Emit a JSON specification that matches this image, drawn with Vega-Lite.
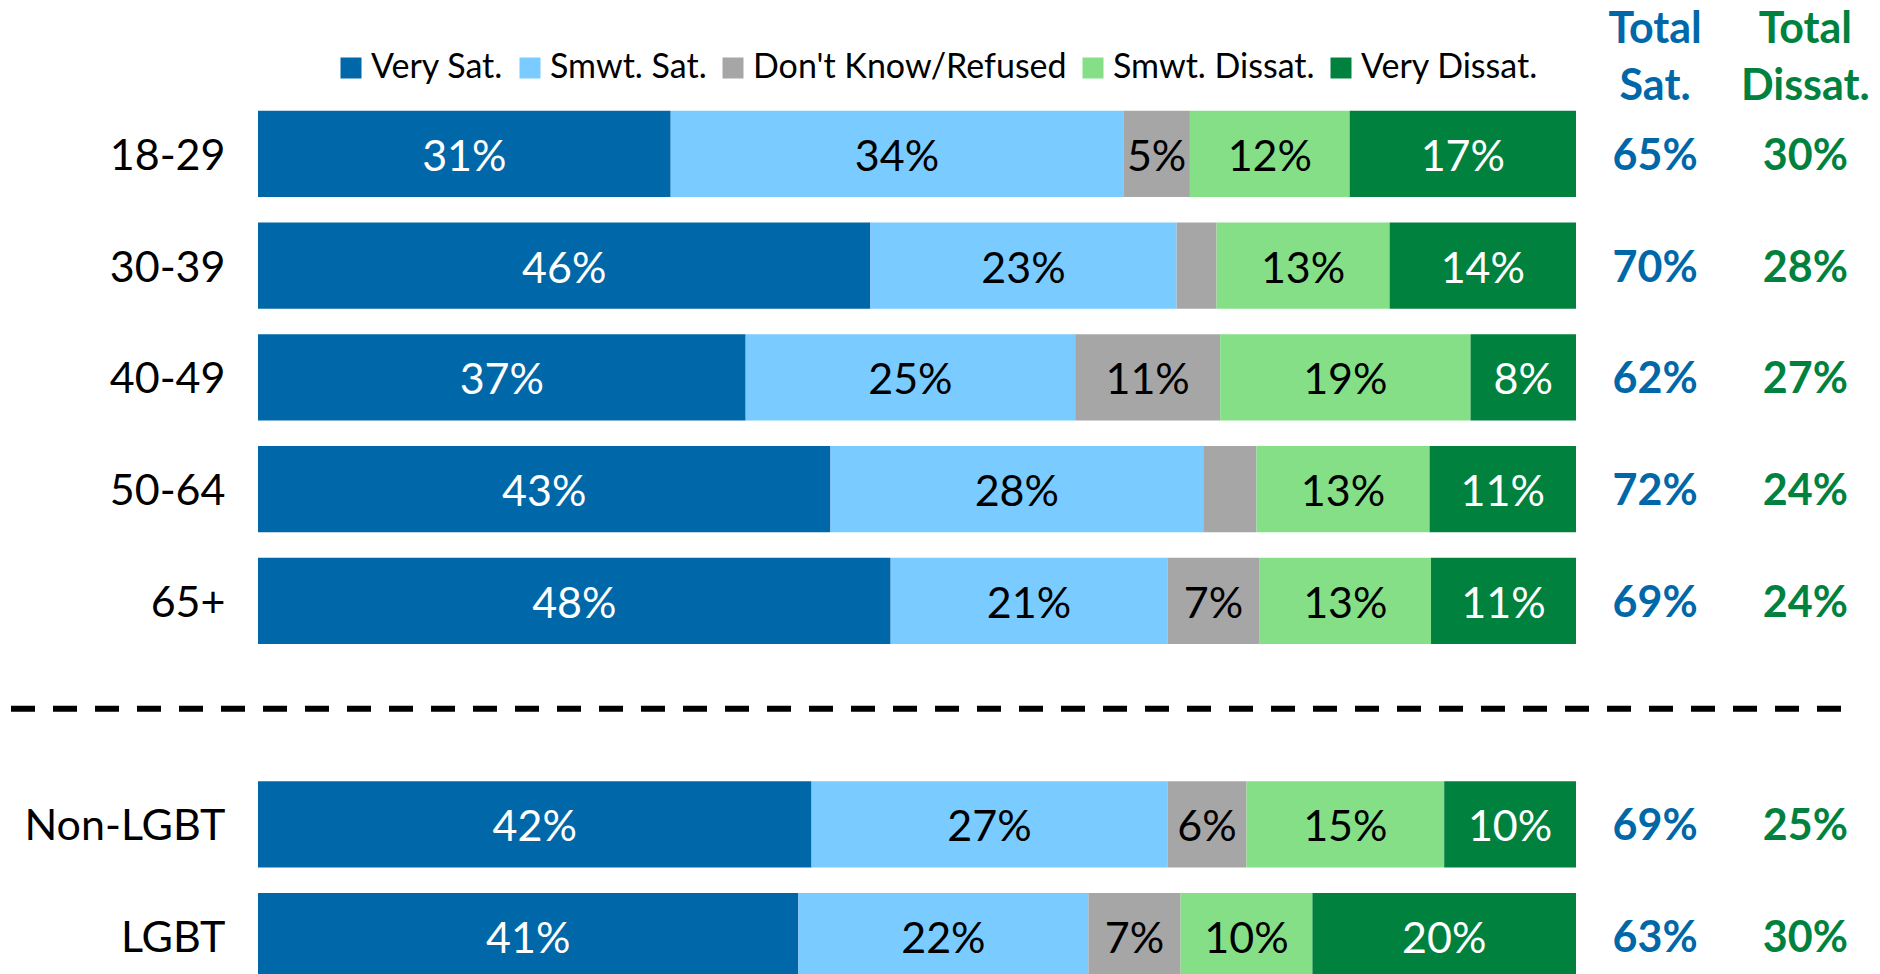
{
  "$schema": "https://vega.github.io/schema/vega-lite/v6.json",
  "width": 1318,
  "height": 876,
  "autosize": {"type": "none"},
  "padding": {"left": 258, "top": 98, "right": 304, "bottom": 0},
  "background": "white",
  "config": {"view": {"stroke": null}, "font": "Lato"},
  "datasets": {
    "shares": [
      {"group": "18-29", "cat": "Very Sat.", "v": 31},
      {"group": "18-29", "cat": "Smwt. Sat.", "v": 34},
      {"group": "18-29", "cat": "Don't Know/Refused", "v": 5},
      {"group": "18-29", "cat": "Smwt. Dissat.", "v": 12},
      {"group": "18-29", "cat": "Very Dissat.", "v": 17},
      {"group": "30-39", "cat": "Very Sat.", "v": 46},
      {"group": "30-39", "cat": "Smwt. Sat.", "v": 23},
      {"group": "30-39", "cat": "Don't Know/Refused", "v": 3},
      {"group": "30-39", "cat": "Smwt. Dissat.", "v": 13},
      {"group": "30-39", "cat": "Very Dissat.", "v": 14},
      {"group": "40-49", "cat": "Very Sat.", "v": 37},
      {"group": "40-49", "cat": "Smwt. Sat.", "v": 25},
      {"group": "40-49", "cat": "Don't Know/Refused", "v": 11},
      {"group": "40-49", "cat": "Smwt. Dissat.", "v": 19},
      {"group": "40-49", "cat": "Very Dissat.", "v": 8},
      {"group": "50-64", "cat": "Very Sat.", "v": 43},
      {"group": "50-64", "cat": "Smwt. Sat.", "v": 28},
      {"group": "50-64", "cat": "Don't Know/Refused", "v": 4},
      {"group": "50-64", "cat": "Smwt. Dissat.", "v": 13},
      {"group": "50-64", "cat": "Very Dissat.", "v": 11},
      {"group": "65+", "cat": "Very Sat.", "v": 48},
      {"group": "65+", "cat": "Smwt. Sat.", "v": 21},
      {"group": "65+", "cat": "Don't Know/Refused", "v": 7},
      {"group": "65+", "cat": "Smwt. Dissat.", "v": 13},
      {"group": "65+", "cat": "Very Dissat.", "v": 11},
      {"group": "Non-LGBT", "cat": "Very Sat.", "v": 42},
      {"group": "Non-LGBT", "cat": "Smwt. Sat.", "v": 27},
      {"group": "Non-LGBT", "cat": "Don't Know/Refused", "v": 6},
      {"group": "Non-LGBT", "cat": "Smwt. Dissat.", "v": 15},
      {"group": "Non-LGBT", "cat": "Very Dissat.", "v": 10},
      {"group": "LGBT", "cat": "Very Sat.", "v": 41},
      {"group": "LGBT", "cat": "Smwt. Sat.", "v": 22},
      {"group": "LGBT", "cat": "Don't Know/Refused", "v": 7},
      {"group": "LGBT", "cat": "Smwt. Dissat.", "v": 10},
      {"group": "LGBT", "cat": "Very Dissat.", "v": 20}
    ],
    "totals": [
      {"group": "18-29", "sat": 65, "dissat": 30},
      {"group": "30-39", "sat": 70, "dissat": 28},
      {"group": "40-49", "sat": 62, "dissat": 27},
      {"group": "50-64", "sat": 72, "dissat": 24},
      {"group": "65+", "sat": 69, "dissat": 24},
      {"group": "Non-LGBT", "sat": 69, "dissat": 25},
      {"group": "LGBT", "sat": 63, "dissat": 30}
    ]
  },
  "layer": [
    {
      "data": {"name": "shares"},
      "transform": [
        {"calculate": "indexof(['Very Sat.','Smwt. Sat.',\"Don't Know/Refused\",'Smwt. Dissat.','Very Dissat.'], datum.cat)", "as": "ord"},
        {"stack": "v", "groupby": ["group"], "sort": [{"field": "ord", "order": "ascending"}], "offset": "normalize", "as": ["x0", "x1"]},
        {"calculate": "(datum.x0 + datum.x1) / 2", "as": "xm"},
        {"calculate": "datum.v + '%'", "as": "lbl"}
      ],
      "layer": [
        {
          "mark": {"type": "bar"},
          "encoding": {
            "x": {"field": "x0", "type": "quantitative", "scale": {"domain": [0, 1], "nice": false, "zero": false}, "axis": null},
            "x2": {"field": "x1"},
            "y": {
              "field": "group", "type": "nominal",
              "scale": {"domain": ["18-29", "30-39", "40-49", "50-64", "65+", "gap", "Non-LGBT", "LGBT"], "paddingInner": 0.23, "paddingOuter": 0.115, "range": [0, 894]},
              "axis": {"title": null, "domain": false, "ticks": false, "labelFontSize": 43, "labelColor": "black", "labelPadding": 33, "labelOffset": 3, "labelLimit": 0, "labelFont": "Lato", "labelExpr": "datum.value === 'gap' ? '' : datum.value"}
            },
            "color": {
              "field": "cat", "type": "nominal",
              "scale": {"domain": ["Very Sat.", "Smwt. Sat.", "Don't Know/Refused", "Smwt. Dissat.", "Very Dissat."], "range": ["#0068A8", "#7ACBFF", "#A6A6A6", "#85DF86", "#00823E"]},
              "legend": {"title": null, "orient": "none", "legendX": 76, "legendY": -47, "direction": "horizontal", "symbolType": "square", "symbolSize": 441, "symbolStrokeWidth": 0, "labelFontSize": 34, "labelFont": "Lato", "labelColor": "black", "labelOffset": 3, "columnPadding": 9, "labelLimit": 0}
            }
          }
        },
        {
          "transform": [{"filter": "datum.v >= 5"}],
          "mark": {"type": "text", "fontSize": 43, "font": "Lato", "dy": 4},
          "encoding": {
            "x": {"field": "xm", "type": "quantitative"},
            "y": {"field": "group", "type": "nominal"},
            "text": {"field": "lbl"},
            "color": {"condition": {"test": "datum.cat === 'Very Sat.' || datum.cat === 'Very Dissat.'", "value": "white"}, "value": "black"}
          }
        }
      ]
    },
    {
      "data": {"name": "totals"},
      "transform": [
        {"calculate": "datum.sat + '%'", "as": "satl"},
        {"calculate": "datum.dissat + '%'", "as": "dissatl"}
      ],
      "layer": [
        {
          "mark": {"type": "text", "fontSize": 43, "fontWeight": "bold", "font": "Lato", "color": "#0068A8", "dy": 3},
          "encoding": {"x": {"datum": 1.06}, "y": {"field": "group", "type": "nominal"}, "text": {"field": "satl"}}
        },
        {
          "mark": {"type": "text", "fontSize": 43, "fontWeight": "bold", "font": "Lato", "color": "#00823E", "dy": 3},
          "encoding": {"x": {"datum": 1.174}, "y": {"field": "group", "type": "nominal"}, "text": {"field": "dissatl"}}
        }
      ]
    },
    {
      "data": {"values": [{}]},
      "mark": {"type": "text", "text": ["Total", "Sat."], "fontSize": 43, "fontWeight": "bold", "font": "Lato", "color": "#0068A8", "baseline": "alphabetic", "lineHeight": 57, "dy": -111},
      "encoding": {"x": {"datum": 1.06}, "y": {"datum": "18-29", "type": "nominal"}}
    },
    {
      "data": {"values": [{}]},
      "mark": {"type": "text", "text": ["Total", "Dissat."], "fontSize": 43, "fontWeight": "bold", "font": "Lato", "color": "#00823E", "baseline": "alphabetic", "lineHeight": 57, "dy": -111},
      "encoding": {"x": {"datum": 1.174}, "y": {"datum": "18-29", "type": "nominal"}}
    },
    {
      "data": {"values": [{}]},
      "mark": {"type": "rule", "strokeDash": [24, 18], "strokeWidth": 6, "color": "black", "yOffset": -4},
      "encoding": {"y": {"datum": "gap", "type": "nominal"}, "x": {"datum": -0.1874}, "x2": {"datum": 1.2011}}
    }
  ]
}
